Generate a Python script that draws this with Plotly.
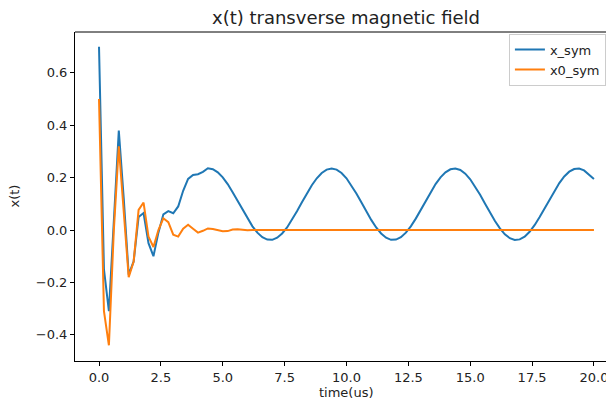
import plotly.graph_objects as go

time_us = [round(i * 0.2, 1) for i in range(101)]

x_sym = [
    0.70, -0.15, -0.31, 0.05, 0.38, 0.12, -0.17, -0.12, 0.05, 0.065,
    -0.05, -0.10, -0.01, 0.06, 0.072, 0.064, 0.09, 0.15, 0.195, 0.21,
    0.213, 0.222, 0.236, 0.232, 0.220, 0.201, 0.1755, 0.1446, 0.1110, 0.0766,
    0.0436, 0.0141, -0.0100, -0.0274, -0.0365, -0.0373, -0.0292, -0.0131, 0.0099, 0.0388,
    0.0715, 0.1058, 0.1397, 0.1710, 0.1976, 0.2179, 0.2306, 0.2350, 0.2306, 0.2179,
    0.1976, 0.1710, 0.1397, 0.1058, 0.0715, 0.0388, 0.0099, -0.0131, -0.0292, -0.0373,
    -0.0365, -0.0274, -0.0100, 0.0141, 0.0436, 0.0766, 0.1110, 0.1446, 0.1755, 0.2010,
    0.2203, 0.2319, 0.2349, 0.2293, 0.2153, 0.1939, 0.1665, 0.1348, 0.1007, 0.0664,
    0.0342, 0.0062, -0.0162, -0.0312, -0.0376, -0.0357, -0.0253, -0.0067, 0.0184, 0.0485,
    0.0817, 0.1161, 0.1494, 0.1794, 0.2044, 0.2227, 0.2328, 0.2346, 0.2276, 0.2125,
    0.1950,
]

x0_sym = [
    0.50, -0.31, -0.44, 0.0, 0.32, 0.08, -0.18, -0.12, 0.077, 0.105,
    -0.025, -0.065, 0.0, 0.045, 0.03, -0.018, -0.025, 0.005, 0.02, 0.005,
    -0.01, -0.003, 0.006, 0.004, 0.0, -0.005, -0.004, 0.002, 0.003, 0.001,
    -0.001, 0.0, 0.0, 0.0, 0.0, 0.0, 0.0, 0.0, 0.0, 0.0,
    0.0, 0.0, 0.0, 0.0, 0.0, 0.0, 0.0, 0.0, 0.0, 0.0,
    0.0, 0.0, 0.0, 0.0, 0.0, 0.0, 0.0, 0.0, 0.0, 0.0,
    0.0, 0.0, 0.0, 0.0, 0.0, 0.0, 0.0, 0.0, 0.0, 0.0,
    0.0, 0.0, 0.0, 0.0, 0.0, 0.0, 0.0, 0.0, 0.0, 0.0,
    0.0, 0.0, 0.0, 0.0, 0.0, 0.0, 0.0, 0.0, 0.0, 0.0,
    0.0, 0.0, 0.0, 0.0, 0.0, 0.0, 0.0, 0.0, 0.0, 0.0,
    0.0,
]

x_ticks = [0.0, 2.5, 5.0, 7.5, 10.0, 12.5, 15.0, 17.5, 20.0]
x_tick_labels = ["0.0", "2.5", "5.0", "7.5", "10.0", "12.5", "15.0", "17.5", "20.0"]
y_ticks = [-0.4, -0.2, 0.0, 0.2, 0.4, 0.6]
y_tick_labels = ["\u22120.4", "\u22120.2", "0.0", "0.2", "0.4", "0.6"]

font = "DejaVu Sans"
txt = "#222222"

fig = go.Figure()
fig.add_trace(go.Scatter(x=time_us, y=x_sym, mode="lines", name="x_sym",
                         line=dict(color="#1f77b4", width=2)))
fig.add_trace(go.Scatter(x=time_us, y=x0_sym, mode="lines", name="x0_sym",
                         line=dict(color="#ff7f0e", width=2)))

axis_common = dict(
    showgrid=False, zeroline=False, showline=True, linecolor="black", linewidth=1,
    ticks="outside", ticklen=4, tickwidth=1, tickcolor="black",
    tickfont=dict(family=font, size=13, color=txt),
    mirror=False, automargin=False,
)

# The page body adds an 8px offset, so the figure is 8px smaller on each side.
# plot area (page px): left 75, right 614, top 32, bottom 361
fig.update_layout(
    width=606, height=393,
    margin=dict(l=67, r=0, t=24, b=40, autoexpand=False),
    paper_bgcolor="white", plot_bgcolor="white",
    font=dict(family=font, color=txt),
    xaxis=dict(axis_common, range=[-0.97, 20.81], tickvals=x_ticks, ticktext=x_tick_labels),
    yaxis=dict(axis_common, range=[-0.5, 0.756], tickvals=y_ticks, ticktext=y_tick_labels),
    legend=dict(x=0.985, y=0.995, xanchor="right", yanchor="top",
                bgcolor="rgba(255,255,255,0.8)", bordercolor="#cccccc", borderwidth=1,
                font=dict(family=font, size=13, color=txt),
                tracegroupgap=0, itemwidth=30),
    showlegend=True,
)
# top spine
fig.add_shape(type="line", xref="paper", yref="paper", x0=0, x1=1, y0=1, y1=1,
              line=dict(color="black", width=1))

# title and axis labels
fig.add_annotation(text="x(t) transverse magnetic field", xref="paper", yref="paper",
                   x=0.503, y=(361 - 18) / 329, xanchor="center", yanchor="middle",
                   showarrow=False, font=dict(family=font, size=18, color=txt))
fig.add_annotation(text="time(us)", xref="paper", yref="paper",
                   x=0.503, y=(361 - 392) / 329, xanchor="center", yanchor="middle",
                   showarrow=False, font=dict(family=font, size=13, color=txt))
fig.add_annotation(text="x(t)", xref="paper", yref="paper",
                   x=(14 - 75) / 539, y=0.5, xanchor="center", yanchor="middle",
                   textangle=-90, showarrow=False, font=dict(family=font, size=13, color=txt))

fig.write_html("out.html")
